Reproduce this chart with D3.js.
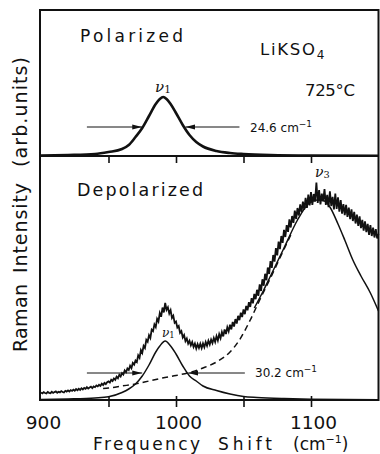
<!DOCTYPE html>
<html>
<head>
<meta charset="utf-8">
<script src="https://cdn.jsdelivr.net/npm/d3@7"></script>
<style>
  body { margin: 0; background: #fff; }
  text { font-family: "DejaVu Sans", sans-serif; fill: #111; }
</style>
</head>
<body>
<svg id="chart" width="380" height="454"></svg>
<script>
// --- data (intensities in arb. units) ---

// polarized spectrum, nu1 band
var nuPol = [900, 920, 940, 950, 960, 965, 970, 975, 980, 985, 988, 990.5, 993, 996, 1000, 1005, 1010, 1015, 1020, 1030, 1040, 1050, 1070, 1100, 1150];
var polarized = [0.5, 1, 2, 4, 7, 11, 19, 28, 40, 52, 57, 59, 57, 52, 43, 31, 21, 14, 9.5, 5, 3, 2, 1, 0.5, 0.3];

// depolarized spectrum, measured (noisy), one value per cm-1 from 900
var depStart = 900, depStep = 1;
var depolarized = [
  7.4, 6.6, 7.8, 7.0, 6.5, 8.0, 7.2, 6.8, 8.2, 7.1,
  7.9, 8.6, 7.2, 8.3, 7.6, 8.9, 8.0, 7.5, 9.2, 8.4,
  9.6, 8.5, 9.9, 9.1, 10.4, 9.3, 10.9, 9.8, 11.2, 10.1,
  11.8, 10.6, 12.0, 11.2, 12.9, 11.5, 12.4, 13.3, 11.9, 13.6,
  12.8, 14.5, 13.6, 15.2, 14.1, 16.3, 15.0, 17.1, 15.9, 17.8,
  18.6, 17.4, 20.2, 19.0, 21.5, 20.1, 23.4, 21.8, 25.3, 23.6,
  26.9, 25.4, 29.6, 27.8, 31.5, 30.0, 34.2, 31.9, 37.0, 35.4,
  39.5, 38.0, 44.6, 42.1, 49.8, 47.0, 54.1, 52.0, 60.2, 58.3,
  64.8, 62.0, 70.3, 68.9, 75.6, 72.9, 81.2, 78.5, 86.9, 83.2,
  92.4, 87.6, 97.0, 90.1, 92.6, 86.5, 89.8, 82.0, 84.3, 77.2,
  78.5, 72.4, 74.0, 67.1, 68.9, 62.5, 65.0, 58.8, 61.4, 56.3,
  59.2, 54.6, 57.9, 53.1, 56.4, 51.5, 55.8, 52.0, 56.3, 51.9,
  56.6, 52.8, 57.9, 54.2, 59.3, 55.5, 60.4, 56.9, 62.0, 58.1,
  63.9, 59.5, 65.8, 61.8, 67.9, 63.6, 70.5, 65.9, 72.8, 68.7,
  75.3, 70.6, 78.1, 73.5, 80.9, 76.4, 84.2, 79.8, 87.3, 82.9,
  90.6, 85.8, 94.0, 89.7, 97.8, 93.1, 101.9, 96.6, 106.0, 100.8,
  110.2, 104.1, 115.6, 109.0, 120.7, 114.3, 126.2, 119.8, 132.5, 126.0,
  138.9, 132.1, 145.0, 138.4, 151.8, 144.6, 158.3, 150.9, 164.0, 157.1,
  170.2, 163.0, 174.9, 168.1, 180.6, 172.5, 184.0, 177.2, 189.3, 181.0,
  192.0, 184.5, 195.6, 187.9, 198.4, 190.3, 202.1, 192.0, 205.3, 194.6,
  207.9, 195.2, 206.0, 198.4, 217.5, 197.0, 209.8, 195.6, 206.4, 198.9,
  211.0, 195.1, 205.2, 192.8, 208.7, 194.0, 203.1, 190.6, 206.5, 191.2,
  202.6, 188.4, 199.9, 186.3, 196.0, 184.8, 195.2, 183.1, 192.4, 180.9,
  190.7, 179.0, 188.1, 176.5, 185.4, 174.2, 183.6, 171.8, 180.2, 169.4,
  178.6, 167.8, 176.1, 165.2, 174.9, 164.0, 172.3, 162.5, 170.8, 161.6,
  166.0
];

// fitted nu1 band in the depolarized spectrum
var nuFit1 = [900, 920, 940, 950, 960, 965, 970, 975, 980, 985, 988, 992, 996, 1000, 1005, 1010, 1015, 1020, 1030, 1040, 1050, 1060, 1080, 1100, 1150];
var fit1 = [0.5, 1, 2, 3.2, 7.5, 11, 16, 24, 35, 48, 54, 59, 54, 46, 34, 24, 19, 14, 9.5, 6, 3.5, 2.5, 1.4, 0.8, 0.3];

// dashed background / sum curve
var nuBg = [946, 950, 960, 970, 980, 990, 1000, 1010, 1020, 1030, 1040, 1047, 1055, 1062, 1070, 1078, 1085];
var background = [11.5, 12, 14, 16, 19, 22, 24.5, 27.5, 32, 38, 48, 60, 80, 100, 122, 145, 165];

// fitted nu3 band
var nuFit3 = [1058, 1065, 1070, 1080, 1090, 1098, 1105, 1110, 1114, 1120, 1125, 1131, 1137, 1144, 1150];
var fit3 = [92, 110, 124, 152, 180, 196, 200, 199, 193, 176, 160, 140, 124, 107, 89];

// half-width arrows: [start, tip] in cm-1, at half height
var fwhmPolArrows = [[934, 975], [1047, 1007]];
var fwhmPolLevel = 29;
var fwhmDepArrows = [[934, 975], [1051, 1009]];
var fwhmDepLevel = 27;

var xTicks = [950, 1000, 1050, 1100];
var xLabels = [900, 1000, 1100];

// --- drawing ---
(function () {
var svg = d3.select("#chart");
var pLeft = 40, pRight = 378.5, pTop = 10, pMid = 156, pBottom = 400;

var x = d3.scaleLinear().domain([900, 1150]).range([41, pRight]);
var yTop = d3.scaleLinear().domain([0, 146]).range([pMid, pTop]);
var yLow = d3.scaleLinear().domain([0, 244]).range([pBottom, pMid]);

svg.append("defs").append("marker")
    .attr("id", "head")
    .attr("viewBox", "0 -3 10 6")
    .attr("refX", 10).attr("refY", 0)
    .attr("markerWidth", 10).attr("markerHeight", 6)
    .attr("markerUnits", "userSpaceOnUse")
    .attr("orient", "auto")
  .append("path")
    .attr("d", "M0,-2.5L10,0L0,2.5Z")
    .attr("fill", "#111");

var pairs = function (xs, ys) { return xs.map(function (v, i) { return [v, ys[i]]; }); };

var lineTop = d3.line().x(function (d) { return x(d[0]); }).y(function (d) { return yTop(d[1]); })
    .curve(d3.curveMonotoneX);
var lineLowSmooth = d3.line().x(function (d) { return x(d[0]); }).y(function (d) { return yLow(d[1]); })
    .curve(d3.curveMonotoneX);
var lineLowRaw = d3.line().x(function (d) { return x(d[0]); }).y(function (d) { return yLow(d[1]); });

// polarized curve
svg.append("path")
    .attr("d", lineTop(pairs(nuPol, polarized)))
    .attr("fill", "none").attr("stroke", "#111").attr("stroke-width", 2.6);

// depolarized measured spectrum
var depPts = depolarized.map(function (v, i) { return [depStart + i * depStep, v]; });
svg.append("path")
    .attr("d", lineLowRaw(depPts))
    .attr("fill", "none").attr("stroke", "#111").attr("stroke-width", 1.8);

// fits
svg.append("path")
    .attr("d", lineLowSmooth(pairs(nuFit1, fit1)))
    .attr("fill", "none").attr("stroke", "#111").attr("stroke-width", 1.5);
svg.append("path")
    .attr("d", lineLowSmooth(pairs(nuBg, background)))
    .attr("fill", "none").attr("stroke", "#111").attr("stroke-width", 1.5)
    .attr("stroke-dasharray", "6,4");
svg.append("path")
    .attr("d", lineLowSmooth(pairs(nuFit3, fit3)))
    .attr("fill", "none").attr("stroke", "#111").attr("stroke-width", 1.5);

// FWHM arrows
function arrows(list, yv) {
  list.forEach(function (a) {
    svg.append("line")
        .attr("x1", x(a[0])).attr("x2", x(a[1]))
        .attr("y1", yv).attr("y2", yv)
        .attr("stroke", "#111").attr("stroke-width", 1)
        .attr("marker-end", "url(#head)");
  });
}
arrows(fwhmPolArrows, yTop(fwhmPolLevel));
arrows(fwhmDepArrows, yLow(fwhmDepLevel));

// frame and divider
svg.append("rect")
    .attr("x", pLeft).attr("y", pTop)
    .attr("width", pRight - pLeft).attr("height", pBottom - pTop)
    .attr("fill", "none").attr("stroke", "#111").attr("stroke-width", 2);
svg.append("line")
    .attr("x1", pLeft).attr("x2", pRight).attr("y1", pMid).attr("y2", pMid)
    .attr("stroke", "#111").attr("stroke-width", 2.2);

// ticks below the divider
var midAxis = svg.append("g")
    .attr("transform", "translate(0," + pMid + ")")
    .call(d3.axisBottom(x).tickValues(xTicks).tickSize(7).tickFormat(""));
midAxis.select(".domain").remove();
midAxis.selectAll(".tick line").attr("stroke", "#111").attr("stroke-width", 1.6);

// bottom axis ticks (crossing the frame)
var botAxis = svg.append("g")
    .attr("transform", "translate(0," + pBottom + ")")
    .call(d3.axisBottom(x).tickValues(xTicks).tickSize(7).tickFormat(""));
botAxis.select(".domain").remove();
botAxis.selectAll(".tick line").attr("y1", -4).attr("stroke", "#111").attr("stroke-width", 1.6);

// bottom axis labels
var labAxis = svg.append("g")
    .attr("transform", "translate(0," + pBottom + ")")
    .call(d3.axisBottom(x).tickValues(xLabels).tickSize(0).tickPadding(16).tickFormat(d3.format("d")));
labAxis.select(".domain").remove();
labAxis.selectAll("text")
    .style("font-family", "'DejaVu Sans', sans-serif")
    .style("font-size", "18.5px").attr("dx", 2).attr("fill", "#111");

// x title
var xtY = 450;
svg.append("text").attr("x", 93).attr("y", xtY).style("font-size", "17px")
    .attr("textLength", 107).attr("lengthAdjust", "spacing").text("Frequency");
svg.append("text").attr("x", 218).attr("y", xtY).style("font-size", "17px")
    .attr("textLength", 54).attr("lengthAdjust", "spacing").text("Shift");
var xt = svg.append("text").attr("x", 293).attr("y", xtY).style("font-size", "17px");
xt.append("tspan").text("(cm");
xt.append("tspan").attr("dy", -7).style("font-size", "11px").text("\u22121");
xt.append("tspan").attr("dy", 7).text(")");

// y title
var yt = svg.append("g").attr("transform", "translate(27,0)");
[["Raman", 352, 68], ["Intensity", 273, 90], ["(arb.units)", 167, 110]].forEach(function (w) {
  yt.append("text")
      .attr("transform", "translate(0," + w[1] + ") rotate(-90)")
      .style("font-size", "19px")
      .attr("textLength", w[2]).attr("lengthAdjust", "spacing")
      .text(w[0]);
});

// panel annotations
svg.append("text").attr("x", 80).attr("y", 42).style("font-size", "17px")
    .attr("textLength", 103).attr("lengthAdjust", "spacing").text("Polarized");
svg.append("text").attr("x", 77).attr("y", 196).style("font-size", "17.5px")
    .attr("textLength", 126).attr("lengthAdjust", "spacing").text("Depolarized");

var lk = svg.append("text").attr("x", 260).attr("y", 55).style("font-size", "16.5px");
lk.append("tspan").attr("textLength", 55).attr("lengthAdjust", "spacing").text("LiKSO");
lk.append("tspan").attr("dy", 4).style("font-size", "12px").text("4");

svg.append("text").attr("x", 305).attr("y", 96).style("font-size", "16.5px")
    .attr("textLength", 50).attr("lengthAdjust", "spacing").text("725\u00b0C");

function nuLabel(xp, yp, sub, size) {
  var t = svg.append("text").attr("x", xp).attr("y", yp)
      .style("font-family", "'DejaVu Serif', serif").style("font-style", "italic")
      .style("font-size", size + "px");
  t.append("tspan").text("\u03bd");
  t.append("tspan").attr("dy", 1).style("font-size", (size * 0.7) + "px").style("font-style", "normal").text(sub);
}
nuLabel(155, 92, "1", 15);
nuLabel(315, 177, "3", 14);
nuLabel(162, 337, "1", 12);

function widthLabel(xp, yp, val) {
  var t = svg.append("text").attr("x", xp).attr("y", yp).style("font-size", "12px");
  t.append("tspan").text(val + " cm");
  t.append("tspan").attr("dy", -5).style("font-size", "9px").text("\u22121");
}
widthLabel(250, 132, "24.6");
widthLabel(255, 377, "30.2");
})();
</script>
</body>
</html>
